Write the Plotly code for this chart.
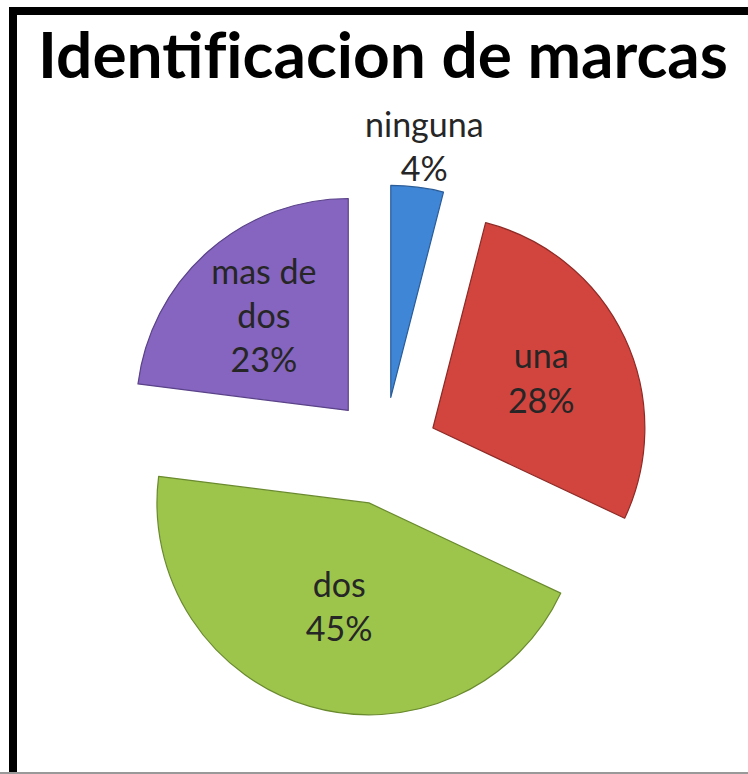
import plotly.graph_objects as go

categories = ["ninguna", "una", "dos", "mas de dos"]
display_names = ["ninguna", "una", "dos", "mas de<br>dos"]
values = [4, 28, 45, 23]
colors = ["#3F86D6", "#D2453E", "#9DC54C", "#8565BF"]
line_colors = ["#2A5C98", "#8E2A26", "#6A8A2E", "#5A4288"]
positions = ["none", "inside", "inside", "inside"]
title_text = "Identif\u200cicacion de marcas"

W, H = 748, 774
LABEL_FONT = dict(family="Lato", size=34, color="#262626")

total = sum(values)
outside_label = "%s<br>%d%%" % (display_names[0], round(100 * values[0] / total))

fig = go.Figure(go.Pie(
    labels=categories,
    values=values,
    customdata=display_names,
    texttemplate="%{customdata}<br>%{percent:.0%}",
    textposition=positions,
    insidetextorientation="horizontal",
    sort=False,
    direction="clockwise",
    rotation=0,
    pull=[0.255] * 4,
    marker=dict(colors=colors, line=dict(color=line_colors, width=1.2)),
    textfont=LABEL_FONT,
    insidetextfont=LABEL_FONT,
    domain=dict(x=[118 / W, 650 / W], y=[1 - 717 / H, 1 - 185 / H]),
    showlegend=False,
    hoverinfo="label+percent",
))

fig.update_layout(
    width=W, height=H,
    margin=dict(l=0, r=0, t=0, b=0),
    paper_bgcolor="white",
    plot_bgcolor="white",
    title=dict(
        text="<b>" + title_text + "</b>",
        font=dict(family="Lato", size=64, color="#000000"),
        x=383 / W, xanchor="center",
        y=1 - 56 / H, yanchor="middle",
    ),
    annotations=[
        dict(text=outside_label, xref="paper", yref="paper",
             x=424 / W, y=1 - 145 / H, xanchor="center", yanchor="middle",
             showarrow=False, font=LABEL_FONT),
    ],
    shapes=[
        dict(type="line", xref="paper", yref="paper",
             x0=13 / W, x1=1.01, y0=1 - 11 / H, y1=1 - 11 / H,
             line=dict(color="black", width=8)),
        dict(type="line", xref="paper", yref="paper",
             x0=13 / W, x1=13 / W, y0=1 - 7 / H, y1=-0.01,
             line=dict(color="black", width=8)),
        dict(type="line", xref="paper", yref="paper",
             x0=0, x1=1, y0=1 / H, y1=1 / H,
             line=dict(color="#999999", width=2)),
    ],
)

fig.write_html("out.html", config={"displayModeBar": False})

with open("out.html", "r", encoding="utf-8") as f:
    html = f.read()
html = html.replace("<head>", "<head><style>html,body{margin:0;padding:0;overflow:hidden;}</style>", 1)
with open("out.html", "w", encoding="utf-8") as f:
    f.write(html)
